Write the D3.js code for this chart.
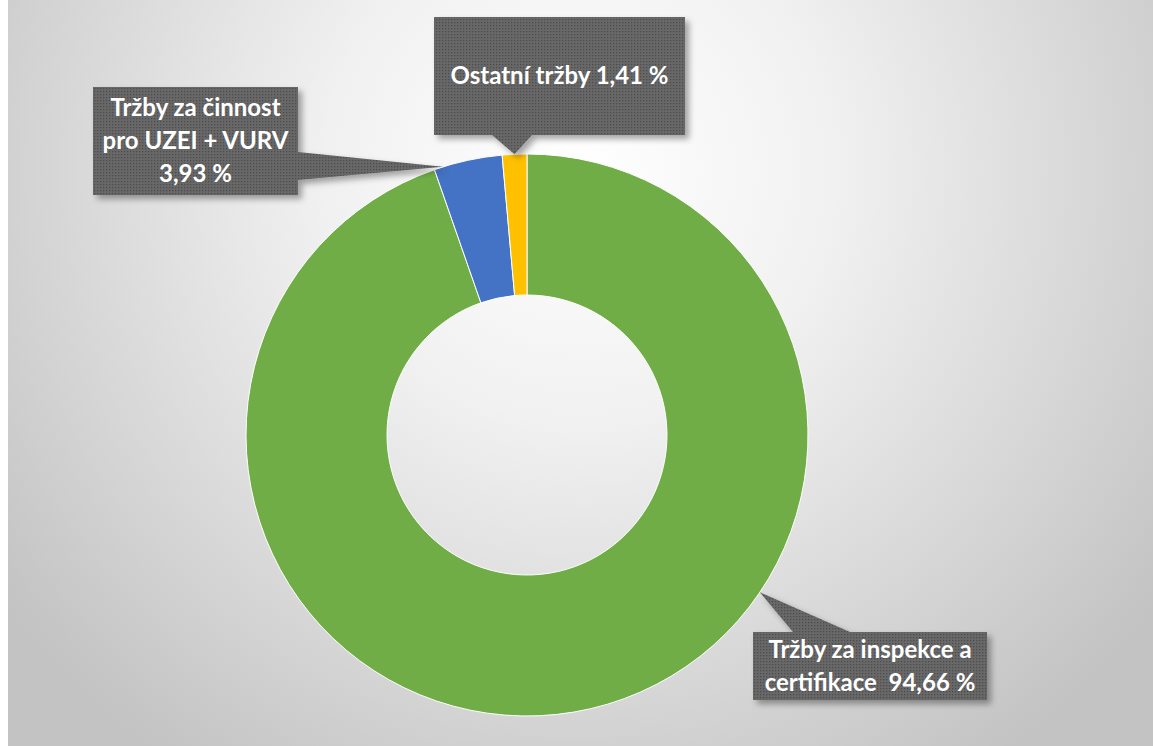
<!DOCTYPE html>
<html lang="cs">
<head>
<meta charset="utf-8">
<title>Tržby</title>
<script src="https://cdn.jsdelivr.net/npm/d3@7"></script>
<style>
  body { margin: 0; background: #fff; }
  svg { display: block; }
  .lbl { font-family: Lato, "Open Sans", sans-serif; font-weight: 700; fill: #fff; font-size: 24px; white-space: pre; }
</style>
</head>
<body>
<div id="chart"></div>
<script>
// data
var categories = ['Tržby za inspekce a certifikace', 'Tržby za činnost pro UZEI + VURV', 'Ostatní tržby'];
var shares = [94.66, 3.93, 1.41];
var labelLines = [
  ['Tržby za inspekce a', 'certifikace  94,66 %'],
  ['Tržby za činnost', 'pro UZEI + VURV', '3,93 %'],
  ['Ostatní tržby 1,41 %']
];
var colors = ['#70ad47', '#4472c4', '#ffc000'];

var width = 1153, height = 746;
var cx = 527, cy = 435, outerR = 281, innerR = 140;

// callout boxes: x, y, w, h, side of pointer, base start/end along that side, where the tip hits the slice
var callouts = [
  { x: 753, y: 632, w: 234, h: 68, side: 'top', b0: 793, b1: 850, frac: 0.364 },
  { x: 93, y: 87, w: 205, h: 108, side: 'right', b0: 152, b1: 180, frac: 0.13 },
  { x: 434, y: 17, w: 251, h: 118, side: 'bottom', b0: 492, b1: 532, frac: 0.5 }
];

var svg = d3.select('#chart').append('svg')
  .attr('width', width).attr('height', height);

var defs = svg.append('defs');
var bg = defs.append('radialGradient').attr('id', 'bg')
  .attr('gradientUnits', 'userSpaceOnUse')
  .attr('cx', 580).attr('cy', 170).attr('r', 720);
bg.append('stop').attr('offset', '0%').attr('stop-color', '#ffffff');
bg.append('stop').attr('offset', '35%').attr('stop-color', '#f1f1f1');
bg.append('stop').attr('offset', '100%').attr('stop-color', '#c3c3c3');

var pat = defs.append('pattern').attr('id', 'dots')
  .attr('patternUnits', 'userSpaceOnUse').attr('width', 3).attr('height', 3);
pat.append('rect').attr('width', 3).attr('height', 3).attr('fill', '#686868');
pat.append('rect').attr('x', 1).attr('y', 1).attr('width', 1.3).attr('height', 1.3).attr('fill', '#4c4c4c');

var shadow = defs.append('filter').attr('id', 'shadow')
  .attr('x', '-10%').attr('y', '-10%').attr('width', '130%').attr('height', '140%');
shadow.append('feDropShadow').attr('dx', 4).attr('dy', 4).attr('stdDeviation', 3)
  .attr('flood-color', '#000').attr('flood-opacity', 0.35);

svg.append('rect').attr('x', 8).attr('y', 0)
  .attr('width', width - 8).attr('height', height).attr('fill', 'url(#bg)');

// donut
var pie = d3.pie().sort(null).value(function (d) { return d; });
var arcs = pie(shares);
var arc = d3.arc().innerRadius(innerR).outerRadius(outerR);

var g = svg.append('g').attr('transform', 'translate(' + cx + ',' + cy + ')');
g.selectAll('path')
  .data(arcs)
  .enter()
  .append('path')
  .attr('d', arc)
  .attr('fill', function (d, i) { return colors[i]; })
  .attr('stroke', '#ffffff')
  .attr('stroke-width', 1);

// callouts
function calloutPath(c, tip) {
  var x0 = c.x, y0 = c.y, x1 = c.x + c.w, y1 = c.y + c.h;
  var p = [];
  if (c.side === 'top') {
    p = [[x0, y0], [c.b0, y0], tip, [c.b1, y0], [x1, y0], [x1, y1], [x0, y1]];
  } else if (c.side === 'bottom') {
    p = [[x0, y0], [x1, y0], [x1, y1], [c.b1, y1], tip, [c.b0, y1], [x0, y1]];
  } else {
    p = [[x0, y0], [x1, y0], [x1, c.b0], tip, [x1, c.b1], [x1, y1], [x0, y1]];
  }
  return 'M' + p.map(function (q) { return q.join(','); }).join('L') + 'Z';
}

var lineH = 33;
callouts.forEach(function (c, i) {
  var a = arcs[i].startAngle + c.frac * (arcs[i].endAngle - arcs[i].startAngle);
  var tip = [cx + outerR * Math.sin(a), cy - outerR * Math.cos(a)];
  svg.append('path')
    .attr('d', calloutPath(c, tip))
    .attr('fill', 'url(#dots)')
    .attr('filter', 'url(#shadow)');
  var lines = labelLines[i];
  var midY = c.y + c.h / 2;
  var t = svg.append('text').attr('class', 'lbl')
    .attr('text-anchor', 'middle');
  lines.forEach(function (s, k) {
    t.append('tspan')
      .attr('x', c.x + c.w / 2)
      .attr('y', midY + (k - (lines.length - 1) / 2) * lineH)
      .attr('dy', '0.35em')
      .text(s);
  });
});
</script>
</body>
</html>
